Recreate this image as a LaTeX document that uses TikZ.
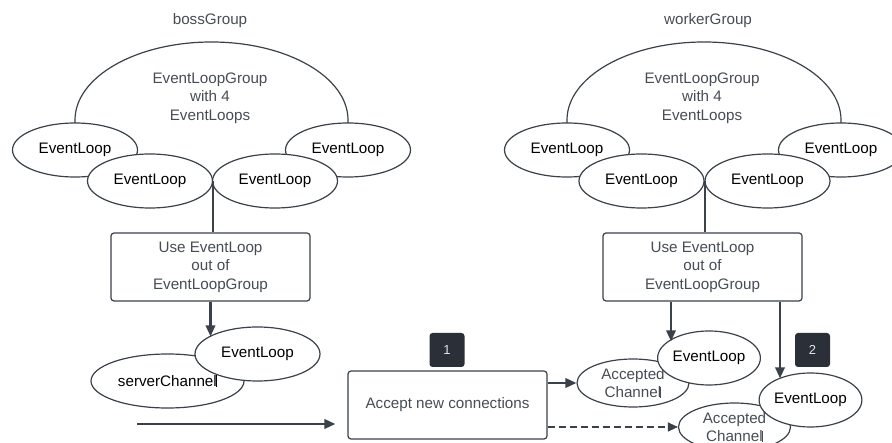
\documentclass[tikz,border=0pt]{standalone}
\usepackage{fontspec}
\setmainfont{Liberation Sans}
\usetikzlibrary{shapes.geometric,arrows.meta}

\definecolor{lineclr}{HTML}{3A414A}
\definecolor{graytext}{HTML}{474C55}
\definecolor{badgeclr}{HTML}{2B3038}
\definecolor{badgetext}{HTML}{E2E4E8}

\newcommand\diagfont{\fontsize{15.2pt}{18.5pt}\selectfont}
\newcommand\cursorbar{\kern-1.1pt\rule[-0.5pt]{1.3pt}{11.5pt}}

\tikzset{
  outline/.style={draw=lineclr, line width=1.2pt},
  elnode/.style={outline, ellipse, fill=white, inner sep=0pt,
    minimum width=125pt, minimum height=54pt, font=\diagfont, text=black},
  smallel/.style={elnode, minimum width=93pt, minimum height=54pt},
  chanel/.style={elnode, minimum width=112pt, minimum height=48pt,
    text=graytext, align=center, font=\diagfont},
  stepbox/.style={outline, rounded corners=3pt, fill=white,
    minimum width=199pt, minimum height=68pt, align=center,
    font=\diagfont, text=graytext},
  grouplabel/.style={font=\diagfont, text=graytext, align=center},
  badge/.style={fill=badgeclr, rounded corners=3pt, minimum width=35pt,
    minimum height=34pt, inner sep=0pt, text=badgetext,
    font=\fontsize{13pt}{15pt}\selectfont},
  conn/.style={draw=lineclr, line width=2.1pt},
  arr/.style={conn, -{Triangle[length=11pt,width=9.5pt]}},
  dasharr/.style={draw=lineclr, line width=1.3pt, dash pattern=on 7pt off 4pt,
    -{Triangle[length=10pt,width=9pt]}},
}

\begin{document}
\begin{tikzpicture}[x=1pt, y=-1pt]
\useasboundingbox (0,0) rectangle (892,443);
\clip (0,0) rectangle (892,443);

% ---------------- boss group ----------------
\node[grouplabel] (bosslbl) at (210,21) {bossGroup};
\draw[outline] (75,135) -- (75,120)
  arc[start angle=180, end angle=360, x radius=136.5, y radius=78] -- (348,135);
\node[grouplabel] (bossgrp) at (210,98) {EventLoopGroup\\with 4\\EventLoops};

\node[elnode] (bel1) at (75,150)   {EventLoop};
\node[elnode] (bel4) at (348,150)  {EventLoop};
\node[elnode] (bel2) at (150,181)  {EventLoop};
\node[elnode] (bel3) at (275,181)  {EventLoop};

\node[stepbox] (bbox) at (210.5,267) {Use EventLoop\\out of\\EventLoopGroup};
\draw[conn] (bel2.east) -- (bel2.east |- bbox.north);

\node[elnode, minimum width=153pt] (srv) at (167.5,381) {serverChannel\cursorbar};
\node[elnode] (bel) at (257.5,354) {EventLoop};
\draw[arr] (bbox.south) -- (bbox.south |- bel.160);

% ---------------- accept step ----------------
\node[stepbox] (accept) at (447.5,405) {Accept new connections};
\node[badge] (b1) at (447,350) {1};
\coordinate (incoming) at (137,424);
\draw[arr, shorten >=12pt] (incoming) -- (incoming -| accept.west);

% ---------------- worker group ----------------
\node[grouplabel] (worklbl) at (708,21) {workerGroup};
\draw[outline] (567,135) -- (567,120)
  arc[start angle=180, end angle=360, x radius=137, y radius=78] -- (841,135);
\node[grouplabel] (workgrp) at (702,98) {EventLoopGroup\\with 4\\EventLoops};

\node[elnode] (wel1) at (567,150)   {EventLoop};
\node[elnode] (wel4) at (841,150)   {EventLoop};
\node[elnode] (wel2) at (641.5,181) {EventLoop};
\node[elnode] (wel3) at (767.5,181) {EventLoop};

\node[stepbox] (wbox) at (702.5,267) {Use EventLoop\\out of\\EventLoopGroup};
\draw[conn] (wel2.east) -- (wel2.east |- wbox.north);

% accepted channels with their event loops
\node[chanel] (acc1) at (633,383) {Accepted\\Channel\cursorbar};
\node[smallel] (cel1) at (709,358) {EventLoop};
\node[chanel] (acc2) at (734.5,427) {Accepted\\Channel\cursorbar};
\node[smallel] (cel2) at (810.5,400) {EventLoop};
\node[badge] (b2) at (812.5,350) {2};

\draw[arr] ([xshift=-31.5pt]wbox.south) -- ([xshift=-31.5pt]wbox.south |- cel1.158);
\draw[arr] ([xshift=77.5pt]wbox.south) -- ([xshift=77.5pt]wbox.south |- cel2.146);

\draw[arr] (acc1.west -| accept.east) -- (acc1.west);
\draw[dasharr] (acc2.west -| accept.east) -- (acc2.west);
\end{tikzpicture}
\end{document}
